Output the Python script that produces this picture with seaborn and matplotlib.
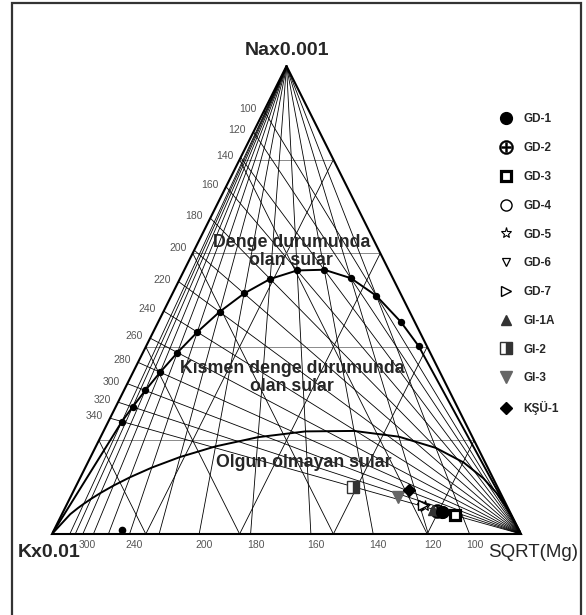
import numpy as np
import matplotlib
matplotlib.use("Agg")
import matplotlib.pyplot as plt
import seaborn as sns
from matplotlib.patches import Rectangle

# ---------------- data ----------------
# Giggenbach geothermometers (temperatures in degC)
nak_temps = [100, 120, 140, 160, 180, 200, 220, 240, 260, 280, 300, 320, 340]   # Na-K isotherms (left side)
kmg_temps = [100, 120, 140, 160, 180, 200, 220, 240, 260, 280, 300, 320, 340]   # K-Mg isotherms (base)
kmg_labels = [100, 120, 140, 160, 180, 200, 240, 300]
eq_temps = [65, 80, 100, 120, 140, 160, 180, 200, 220, 240, 260, 280, 300, 320, 340]
mi_temps = [0, 20, 40, 60, 80, 100, 120, 140, 160, 180, 200, 220, 240, 260, 280, 300, 320, 340, 360, 400]
NAK_A, NAK_B = 1390.0, 1.75
KMG_A, KMG_B = 4410.0, 14.0
MI_IMMATURE = 2.0

# samples: relative fractions (Na/1000, K/100, sqrt(Mg))
samples = ["GD-1", "GD-2", "GD-3", "GD-4", "GD-5", "GD-6", "GD-7", "GI-1A", "GI-2", "GI-3", "KŞÜ-1"]
na_frac = [0.047, 0.049, 0.041, 0.047, 0.060, 0.058, 0.061, 0.051, 0.100, 0.079, 0.094]
k_frac  = [0.145, 0.155, 0.120, 0.142, 0.175, 0.184, 0.178, 0.162, 0.308, 0.223, 0.192]
s_frac  = [0.808, 0.796, 0.839, 0.811, 0.765, 0.758, 0.761, 0.787, 0.592, 0.698, 0.714]
extra_na, extra_k, extra_s = [0.0085], [0.846], [0.145]

region_labels = ["Denge durumunda\nolan sular", "Kısmen denge durumunda\nolan sular", "Olgun olmayan sular"]

# ---------------- helpers ----------------
def tern(na, k, s):
    na = np.asarray(na, float); k = np.asarray(k, float); s = np.asarray(s, float)
    t = na + k + s
    return s / t + 0.5 * na / t, na / t

def nak_ratio(T):   # na/k in diagram units
    return 10 ** (NAK_A / (np.asarray(T, float) + 273.15) - NAK_B) / 10.0

def kmg_ratio(T):   # k/s in diagram units
    return np.sqrt(10 ** (KMG_B - KMG_A / (np.asarray(T, float) + 273.15))) / 100.0

# ---------------- figure ----------------
sns.set_style("white")
plt.rcParams["font.family"] = ["Liberation Sans", "DejaVu Sans"]
W, H = 586, 615
fig = plt.figure(figsize=(W / 100, H / 100), dpi=100)
ax = fig.add_axes([52 / W, (H - 534) / H, 469 / W, 468 / H])
ax.set_xlim(0, 1); ax.set_ylim(0, 1); ax.axis("off")

# frame (bottom edge lies outside the picture)
fig.patches.append(Rectangle((12 / W, -0.05), (581 - 12) / W, 1.05 - 3 / H,
                             transform=fig.transFigure, fill=False, ec="#333333", lw=1.6))

lw_thin = 0.6
# ternary 20% grid
for f in [0.2, 0.4, 0.6, 0.8]:
    x, y = tern([f, f], [1 - f, 0], [0, 1 - f])
    ax.plot(x, y, color="#777777", lw=lw_thin, clip_on=False)
    x, y = tern([0, 1 - f], [f, f], [1 - f, 0])
    ax.plot(x, y, color="black", lw=lw_thin, clip_on=False)
    x, y = tern([0, 1 - f], [1 - f, 0], [f, f])
    ax.plot(x, y, color="black", lw=lw_thin, clip_on=False)

# Na-K isotherms from Mg vertex to left side
r = nak_ratio(nak_temps)
for T, rr in zip(nak_temps, r):
    x, y = tern([0, rr], [0, 1], [1, 0])
    ax.plot(x, y, color="black", lw=lw_thin, clip_on=False)
    ax.text(x[1] - 0.016, y[1] + 0.004, str(T), ha="right", va="center",
            fontsize=7.5, color="#555555")

# K-Mg isotherms from Na apex to base
q = kmg_ratio(kmg_temps)
for T, qq in zip(kmg_temps, q):
    x, y = tern([1, 0], [0, qq], [0, 1])
    ax.plot(x, y, color="black", lw=lw_thin, clip_on=False)
    if T in kmg_labels:
        ax.text(x[1] - 0.008, -0.024, str(T), ha="left", va="center",
                fontsize=7.5, color="#555555")

# triangle outline
tx, ty = tern([1, 0, 0, 1], [0, 1, 0, 0], [0, 0, 1, 0])
ax.plot(tx, ty, color="black", lw=1.5, clip_on=False, solid_joinstyle="miter")

# full equilibrium line with dots
r_eq = nak_ratio(eq_temps); q_eq = kmg_ratio(eq_temps)
ex, ey = tern(r_eq, np.ones_like(r_eq), 1 / q_eq)
lx = np.concatenate([[0.0], ex[::-1], [1.0]])
ly = np.concatenate([[0.0], ey[::-1], [0.0]])
sns.lineplot(x=lx, y=ly, sort=False, estimator=None, color="black", lw=1.4, ax=ax)
sns.scatterplot(x=ex, y=ey, color="black", s=28, edgecolor="black", linewidth=0, ax=ax, zorder=4)

# immature water boundary (MI = 2.0)
q_mi = kmg_ratio(mi_temps)
na_mi = 1 / 10 ** (2.26 - MI_IMMATURE + 0.63 * np.log10(q_mi))
mx, my = tern(na_mi, np.ones_like(q_mi), 1 / q_mi)
mx = np.concatenate([[0.0], mx[::-1], [1.0]])
my = np.concatenate([[0.0], my[::-1], [0.0]])
sns.lineplot(x=mx, y=my, sort=False, estimator=None, color="black", lw=1.4, ax=ax)

# region labels
rfs = 12.8
ax.text(0.51, 0.604, region_labels[0], ha="center", va="center", fontsize=rfs,
        fontweight="bold", linespacing=1.1)
ax.text(0.512, 0.334, region_labels[1], ha="center", va="center", fontsize=rfs,
        fontweight="bold", linespacing=1.1)
ax.text(0.537, 0.153, region_labels[2], ha="center", va="center", fontsize=rfs,
        fontweight="bold")

# vertex labels
ax.text(0.5, 1.034, "Nax0.001", ha="center", va="center", fontsize=14, fontweight="bold")
ax.text(-0.073, -0.04, "Kx0.01", ha="left", va="center", fontsize=14, fontweight="bold")
ax.text(1.121, -0.04, "SQRT(Mg)", ha="right", va="center", fontsize=13.5)

# samples
styles = {
    "GD-1": dict(marker="o", ms=8.5, mfc="black", mec="black", zorder=7),
    "GD-2": dict(marker=r"$\oplus$", ms=10, mfc="black", mec="black", mew=0.4, zorder=5),
    "GD-3": dict(marker="s", ms=7.5, mfc="white", mec="black", mew=2.3, zorder=6),
    "GD-4": dict(marker="o", ms=8, mfc="white", mec="black", mew=1.0, zorder=4),
    "GD-5": dict(marker="*", ms=8, mfc="white", mec="black", mew=0.8, zorder=5),
    "GD-6": dict(marker="v", ms=6, mfc="white", mec="black", mew=0.9, zorder=5),
    "GD-7": dict(marker=">", ms=7.5, mfc="white", mec="black", mew=1.0, zorder=5),
    "GI-1A": dict(marker="^", ms=6.5, mfc="#333333", mec="#333333", zorder=6),
    "GI-2": dict(marker="s", ms=8, fillstyle="right", mfc="#333333", mfcalt="white",
                 mec="#333333", mew=1.0, zorder=5),
    "GI-3": dict(marker="v", ms=8, mfc="#666666", mec="#666666", zorder=5),
    "KŞÜ-1": dict(marker="D", ms=6.5, mfc="black", mec="black", zorder=6),
}
sx, sy = tern(na_frac, k_frac, s_frac)
handles = []
for name, x, y in zip(samples, sx, sy):
    h, = ax.plot([x], [y], linestyle="none", clip_on=False, **styles[name])
    handles.append(h)
ox, oy = tern(extra_na, extra_k, extra_s)
ax.plot(ox, oy, "o", ms=4.5, color="black", clip_on=False, zorder=5)

leg = fig.legend(handles, samples, loc="upper left", bbox_to_anchor=(0.853, 0.8155),
                 bbox_transform=fig.transFigure, frameon=False, handlelength=1.0,
                 handletextpad=1.0, labelspacing=1.42, borderpad=0, borderaxespad=0,
                 prop=dict(weight="bold", size=8.5))

fig.savefig("out.png", dpi=100)
